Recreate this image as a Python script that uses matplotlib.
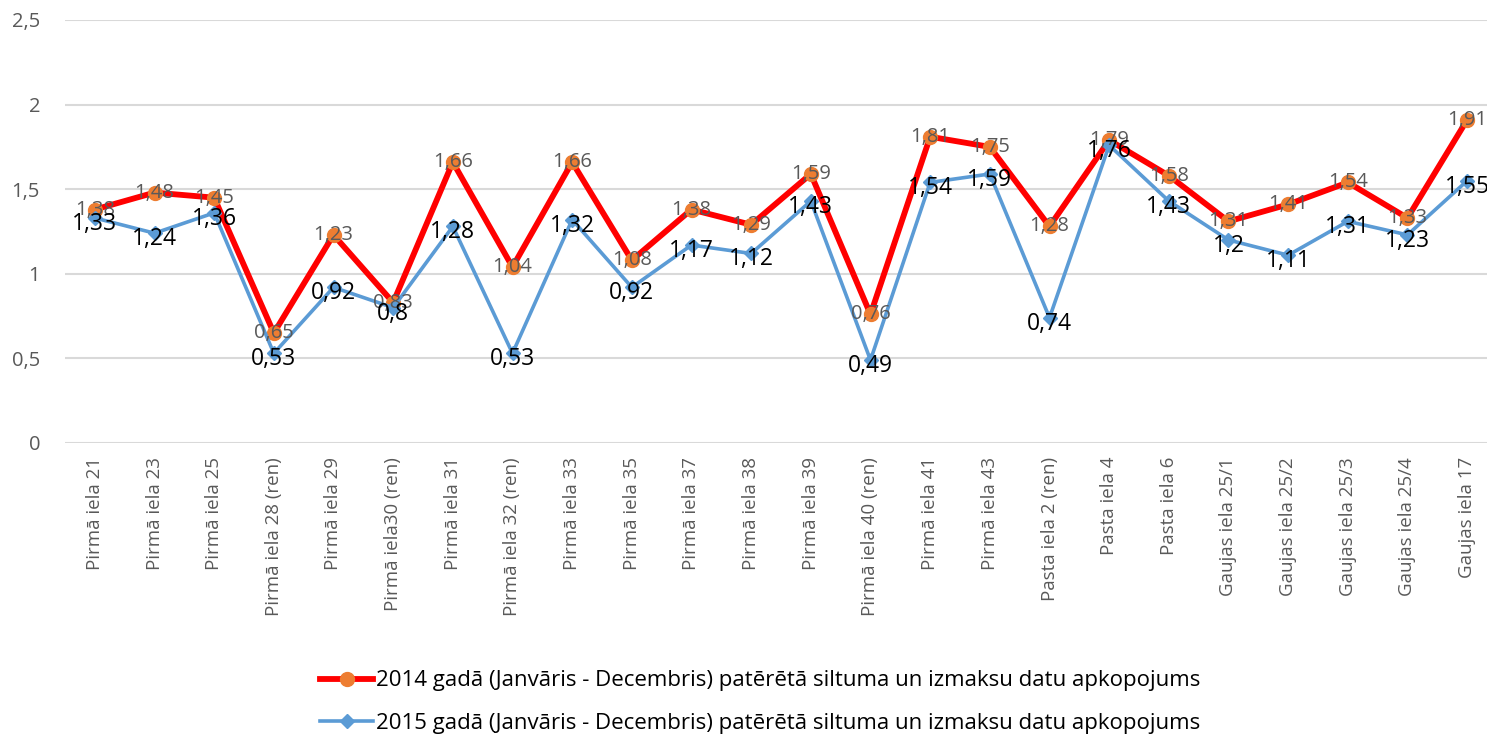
import matplotlib
matplotlib.use("Agg")
import matplotlib.pyplot as plt

# buildings on the x axis
categories = ["Pirmā iela 21", "Pirmā iela 23", "Pirmā iela 25", "Pirmā iela 28 (ren)",
              "Pirmā iela 29", "Pirmā iela30 (ren)", "Pirmā iela 31", "Pirmā iela 32 (ren)",
              "Pirmā iela 33", "Pirmā iela 35", "Pirmā iela 37", "Pirmā iela 38",
              "Pirmā iela 39", "Pirmā iela 40 (ren)", "Pirmā iela 41", "Pirmā iela 43",
              "Pasta iela 2 (ren)", "Pasta iela 4", "Pasta iela 6", "Gaujas iela 25/1",
              "Gaujas iela 25/2", "Gaujas iela 25/3", "Gaujas iela 25/4", "Gaujas iela 17"]

values_2014 = [1.38, 1.48, 1.45, 0.65, 1.23, 0.83, 1.66, 1.04, 1.66, 1.08, 1.38, 1.29,
               1.59, 0.76, 1.81, 1.75, 1.28, 1.79, 1.58, 1.31, 1.41, 1.54, 1.33, 1.91]
values_2015 = [1.33, 1.24, 1.36, 0.53, 0.92, 0.8, 1.28, 0.53, 1.32, 0.92, 1.17, 1.12,
               1.43, 0.49, 1.54, 1.59, 0.74, 1.76, 1.43, 1.2, 1.11, 1.31, 1.23, 1.55]

label_2014 = "2014 gadā (Janvāris - Decembris) patērētā siltuma un izmaksu datu apkopojums"
label_2015 = "2015 gadā (Janvāris - Decembris) patērētā siltuma un izmaksu datu apkopojums"

y_ticks = [0, 0.5, 1, 1.5, 2, 2.5]

plt.rcParams['font.family'] = ['Open Sans', 'DejaVu Sans']


def fmt(v):
    return ("%g" % v).replace(".", ",")


fig = plt.figure(figsize=(14.87, 7.43), dpi=100)
ax = fig.add_axes([65 / 1487, 1 - 443 / 743, (1497 - 65) / 1487, (443 - 20) / 743])

x = list(range(len(categories)))
ax.plot(x, values_2014, color="#ff0000", lw=4.2, marker="o", markersize=10,
        markerfacecolor="#ed7d31", markeredgecolor="#ed7d31", label=label_2014, zorder=3)
ax.plot(x, values_2015, color="#5b9bd5", lw=2.6, marker="D", markersize=7.5,
        markerfacecolor="#5b9bd5", markeredgecolor="#5b9bd5", label=label_2015, zorder=4)

for xi, v in zip(x, values_2014):
    ax.text(xi, v, fmt(v), ha="center", va="center", fontsize=14.5, color="#595959", zorder=5)
for xi, v in zip(x, values_2015):
    ax.text(xi, v - 0.035, fmt(v), ha="center", va="center", fontsize=16.5, color="black", zorder=6)

ax.set_xlim(-0.5, len(categories) - 0.5)
ax.set_ylim(0, 2.5)
ax.set_yticks(y_ticks)
ax.set_yticklabels([fmt(t) for t in y_ticks])
ax.set_xticks(x)
ax.set_xticklabels(categories, rotation=90)
ax.tick_params(axis="both", length=0, labelsize=13.5, labelcolor="#595959")
ax.tick_params(axis="y", pad=18, labelsize=14.5)
ax.tick_params(axis="x", pad=10)
ax.grid(axis="y", color="#d9d9d9", lw=1.5)
ax.set_axisbelow(True)
for s in ax.spines.values():
    s.set_visible(False)

fig.legend(loc="center", bbox_to_anchor=(760 / 1487, 1 - 702 / 743), ncol=1, frameon=False,
           fontsize=16, handlelength=2.4, labelspacing=0.95, handletextpad=0.1)

fig.savefig("out.png", dpi=100)
